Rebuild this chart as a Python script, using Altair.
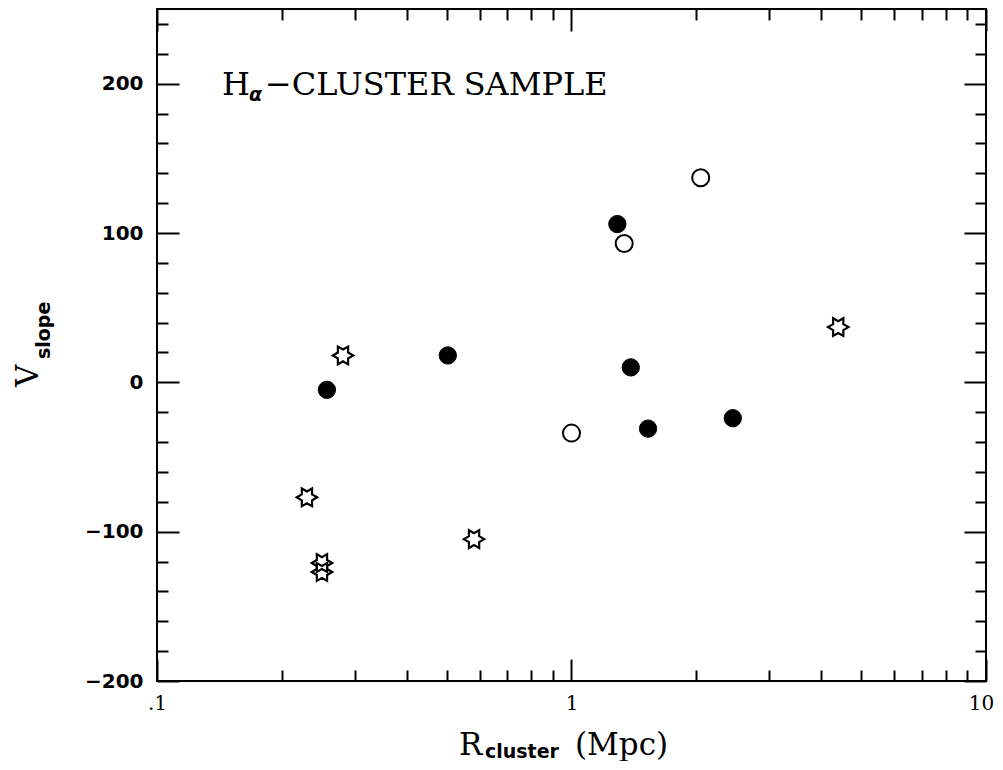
import altair as alt
import pandas as pd

# ---------------- data ----------------
filled_r = [1.29, 1.39, 0.503, 0.257, 1.53, 2.45]
filled_v = [106, 10, 18, -5, -31, -24]

open_r = [2.05, 1.34, 1.00]
open_v = [137, 93, -34]

star_r = [0.281, 4.40, 0.230, 0.250, 0.250, 0.582]
star_v = [18, 37, -77, -121, -127, -105]

x_major_ticks = [0.1, 1, 10]
x_tick_labels = [".1", "1", "10"]
x_minor_ticks = [0.2, 0.3, 0.4, 0.5, 0.6, 0.7, 0.8, 0.9, 2, 3, 4, 5, 6, 7, 8, 9]
y_major_ticks = [-200, -100, 0, 100, 200]
y_minor_ticks = [v for v in range(-180, 250, 20) if v % 100 != 0]

filled_df = pd.DataFrame({"r": filled_r, "v": filled_v})
open_df = pd.DataFrame({"r": open_r, "v": open_v})
star_df = pd.DataFrame({"r": star_r, "v": star_v})
dummy = pd.DataFrame({"k": [0]})

STAR = ("M1,0L0.5,0.2887L0.5,0.866L0,0.577L-0.5,0.866L-0.5,0.2887L-1,0"
        "L-0.5,-0.2887L-0.5,-0.866L0,-0.577L0.5,-0.866L0.5,-0.2887Z")

W, H = 829, 672
MAJ, MIN = 22, 11

xs = alt.Scale(type="log", domain=[0.1, 10], nice=False)
ys = alt.Scale(domain=[-200, 250], nice=False, zero=False)

x_label_expr = ""
for val, lab in zip(x_major_ticks, x_tick_labels):
    x_label_expr += f"abs(datum.value - {val}) < {val}*0.01 ? '{lab}' : "
x_label_expr += "''"


def axis(orient, values, size, labels, kind):
    kw = dict(orient=orient, values=values, offset=-size, tickSize=size,
              tickWidth=2, tickColor="black", domain=False, grid=False,
              title=None, labels=labels, ticks=True)
    if labels and kind == "x":
        kw.update(labelExpr=x_label_expr, labelFont="DejaVu Serif",
                  labelFontSize=20, labelColor="black", labelPadding=12,
                  labelFlush=False, labelOverlap=False,
                  labelOffset={"expr": "datum.value > 5 ? -5 : 0"})
    if labels and kind == "y":
        kw.update(labelFont="DejaVu Sans", labelFontWeight="bold",
                  labelFontSize=20, labelColor="black", labelPadding=14,
                  labelFlush=False, labelOverlap=False)
    return alt.Axis(**kw)


filled = alt.Chart(filled_df).mark_point(
    shape="circle", filled=True, fill="black", stroke="black",
    strokeWidth=1, size=300, opacity=1
).encode(
    x=alt.X("r:Q", scale=xs, axis=axis("bottom", x_major_ticks, MAJ, True, "x")),
    y=alt.Y("v:Q", scale=ys, axis=axis("left", y_major_ticks, MAJ, True, "y")),
)

opn = alt.Chart(open_df).mark_point(
    shape="circle", filled=True, fill="white", stroke="black",
    strokeWidth=2, size=290, opacity=1
).encode(
    x=alt.X("r:Q", scale=xs, axis=axis("top", x_major_ticks, MAJ, False, "x")),
    y=alt.Y("v:Q", scale=ys, axis=axis("right", y_major_ticks, MAJ, False, "y")),
)

stars = alt.Chart(star_df).mark_point(
    shape=STAR, filled=False, stroke="black", strokeWidth=2.2, size=420, opacity=1
).encode(
    x=alt.X("r:Q", scale=xs, axis=axis("bottom", x_minor_ticks, MIN, False, "x")),
    y=alt.Y("v:Q", scale=ys, axis=axis("left", y_minor_ticks, MIN, False, "y")),
)

ghost = alt.Chart(star_df).mark_point(opacity=0).encode(
    x=alt.X("r:Q", scale=xs, axis=axis("top", x_minor_ticks, MIN, False, "x")),
    y=alt.Y("v:Q", scale=ys, axis=axis("right", y_minor_ticks, MIN, False, "y")),
)


def txt(s, x, y, font="DejaVu Serif", size=30, weight="normal", style="normal",
        angle=0):
    return alt.Chart(dummy).mark_text(
        text=s, font=font, fontSize=size, fontWeight=weight, fontStyle=style,
        align="left", baseline="alphabetic", angle=angle, color="black"
    ).encode(x=alt.value(x), y=alt.value(y))


texts = [
    txt("H", 65, 86, size=32),
    txt("α", 92, 92, font="DejaVu Sans", size=19, weight="bold", style="italic"),
    txt("−CLUSTER SAMPLE", 108, 86, size=32),
    txt("R", 302, 746, size=31),
    txt("cluster", 328, 749, font="DejaVu Sans", size=19, weight="bold"),
    txt("(Mpc)", 418, 746, size=31),
    txt("V", -119, 378, size=31, angle=270),
    txt("slope", -107, 350, font="DejaVu Sans", size=19, weight="bold", angle=270),
]

chart = alt.layer(filled, opn, stars, ghost, *texts).resolve_axis(
    x="independent", y="independent"
).properties(
    width=W, height=H,
    padding={"left": 149, "top": 1, "right": 9, "bottom": 80},
    autosize=alt.AutoSizeParams(type="none"),
    background="white",
).configure_view(stroke="black", strokeWidth=2)

chart.save("out.html", embed_options={"renderer": "svg", "actions": False})
